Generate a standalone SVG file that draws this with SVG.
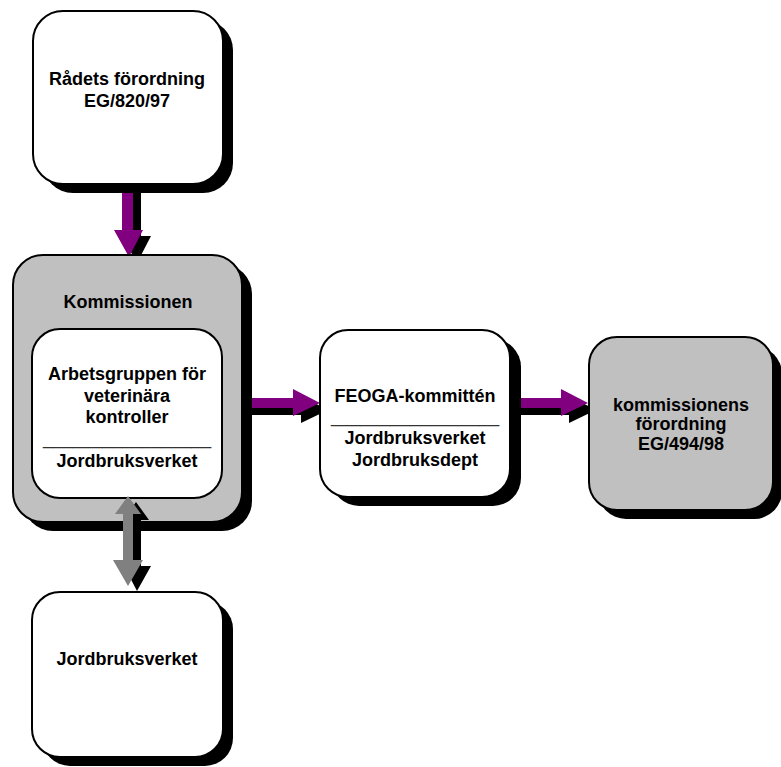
<svg xmlns="http://www.w3.org/2000/svg" width="781" height="767" viewBox="0 0 781 767">
<defs>
<style>
.sh{fill:#000}
.box{stroke:#000;stroke-width:2}
.w{fill:#fff}
.g{fill:#c0c0c0}
.pu{fill:#800080}
.gr{fill:#808080}
text{font-family:"Liberation Sans",Arial,sans-serif;font-weight:bold;font-size:18px;fill:#000;text-anchor:middle}
text.us{font-weight:normal;font-size:17.8px;fill:#333}
</style>
</defs>
<rect width="781" height="767" fill="#fff"/>
<g id="connectors">
  <polygon class="sh" points="130,186 141,186 141,236 151,236 137,263 122,236 130,236"/>
  <polygon class="pu" points="122,180 133,180 133,230 143,230 129,257 114,230 122,230"/>
  <polygon class="sh" points="251,405 301,405 301,396 328,410 301,423 301,415 251,415"/>
  <polygon class="pu" points="243,398 293,398 293,389 320,403 293,416 293,408 243,408"/>
  <polygon class="sh" points="519,405 569,405 569,396 596,410 569,423 569,415 519,415"/>
  <polygon class="pu" points="511,398 561,398 561,389 588,403 561,416 561,408 511,408"/>
</g>
<g id="n1">
  <rect class="sh" x="43" y="20" width="190" height="173" rx="30"/>
  <rect class="box w" x="33" y="11" width="190" height="173" rx="30"/>
  <text x="127" y="85">Rådets förordning</text>
  <text x="127" y="107">EG/820/97</text>
</g>
<g id="n2">
  <rect class="sh" x="23" y="264" width="229" height="267" rx="30"/>
  <rect class="box g" x="13" y="255" width="229" height="267" rx="30"/>
  <text x="128" y="308">Kommissionen</text>
</g>
<g id="n3">
  <rect class="box w" x="32" y="329" width="190" height="169" rx="28"/>
  <text x="127" y="380">Arbetsgruppen för</text>
  <text x="127" y="402">veterinära</text>
  <text x="127" y="423">kontroller</text>
  <text class="us" x="127" y="444">_________________</text>
  <text x="127" y="467">Jordbruksverket</text>
</g>
<g id="n4">
  <rect class="sh" x="331" y="339" width="190" height="167" rx="28"/>
  <rect class="box w" x="320" y="330" width="190" height="167" rx="28"/>
  <text x="415" y="402">FEOGA-kommittén</text>
  <text class="us" x="415" y="422">_________________</text>
  <text x="415" y="444">Jordbruksverket</text>
  <text x="415" y="466">Jordbruksdept</text>
</g>
<g id="n5">
  <rect class="sh" x="598" y="346" width="184" height="173" rx="28"/>
  <rect class="box g" x="589" y="337" width="184" height="173" rx="28"/>
  <text x="681" y="411">kommissionens</text>
  <text x="681" y="430">förordning</text>
  <text x="681" y="450">EG/494/98</text>
</g>
<g id="n6">
  <rect class="sh" x="42" y="601" width="191" height="165" rx="28"/>
  <rect class="box w" x="32" y="592" width="191" height="165" rx="28"/>
  <text x="127" y="665">Jordbruksverket</text>
</g>
<g id="connector-double">
  <polygon class="sh" points="136,502 149,520 141,520 141,566 151,566 137,591 124,566 131,566 131,520 123,520"/>
  <polygon class="gr" points="128,496 141,514 133,514 133,560 143,560 128,586 113,560 123,560 123,514 115,514"/>
</g>
</svg>
